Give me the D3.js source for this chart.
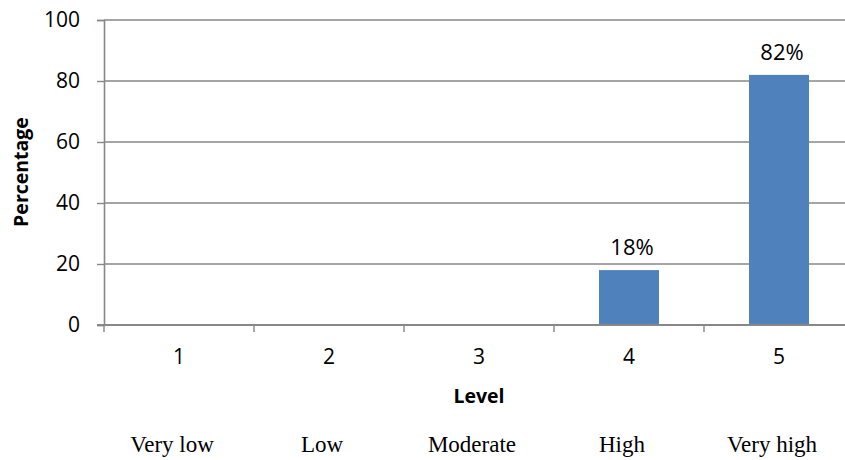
<!DOCTYPE html>
<html>
<head>
<meta charset="utf-8">
<script src="https://cdn.jsdelivr.net/npm/d3@7"></script>
<style>
  html, body { margin: 0; padding: 0; background: #fff; }
  svg { display: block; }
</style>
</head>
<body>
<svg id="chart" width="845" height="460"></svg>
<script>
// Level categories, their verbal descriptions and the share of respondents (%)
const levels = ["1", "2", "3", "4", "5"];
const levelNames = ["Very low", "Low", "Moderate", "High", "Very high"];
const percentages = [0, 0, 0, 18, 82];
const yTicks = [0, 20, 40, 60, 80, 100];

const svg = d3.select("#chart");
const W = 845, H = 460;
const m = { left: 104, top: 20, bottom: 135 };
const plotRight = 854;            // plot area runs a little past the canvas edge
const plotBottom = H - m.bottom;  // 325

const axisColor = "#878787";
const barColor = "#4F81BD";
const sansFont = "'Open Sans', 'Liberation Sans', sans-serif";

const x = d3.scaleBand().domain(levels).range([m.left, plotRight]).paddingInner(0).paddingOuter(0);
const y = d3.scaleLinear().domain([0, 100]).range([plotBottom, m.top]);
const barW = x.bandwidth() * 0.4;

// Horizontal gridlines
svg.append("g")
  .selectAll("line")
  .data(yTicks.filter(d => d > 0))
  .join("line")
  .attr("x1", m.left).attr("x2", W)
  .attr("y1", d => y(d)).attr("y2", d => y(d))
  .attr("stroke", axisColor).attr("stroke-width", 1.4);

// Y axis
const yAxis = svg.append("g")
  .attr("transform", `translate(${m.left},0)`)
  .call(d3.axisLeft(y).tickValues(yTicks).tickSize(7).tickPadding(17));
yAxis.select(".domain").attr("stroke", axisColor).attr("stroke-width", 1.6);
yAxis.selectAll(".tick line").attr("stroke", axisColor).attr("stroke-width", 1.4);
yAxis.selectAll(".tick text")
  .attr("fill", "#000").attr("font-family", sansFont).attr("font-size", 21);

// Bars
svg.append("g")
  .selectAll("rect")
  .data(levels.map((l, i) => ({ l, v: percentages[i] })).filter(d => d.v > 0))
  .join("rect")
  .attr("x", d => x(d.l) + (x.bandwidth() - barW) / 2)
  .attr("width", barW)
  .attr("y", d => y(d.v))
  .attr("height", d => y(0) - y(d.v))
  .attr("fill", barColor);

// Value labels above bars
svg.append("g")
  .selectAll("text")
  .data(levels.map((l, i) => ({ l, v: percentages[i] })).filter(d => d.v > 0))
  .join("text")
  .attr("x", d => x(d.l) + x.bandwidth() / 2 + 3)
  .attr("y", d => y(d.v) - 15)
  .attr("text-anchor", "middle")
  .attr("font-family", sansFont).attr("font-size", 22)
  .attr("fill", "#000")
  .text(d => d.v + "%");

// X axis
const xAxis = svg.append("g")
  .attr("transform", `translate(0,${plotBottom})`)
  .call(d3.axisBottom(x).tickSize(0).tickPadding(24));
xAxis.select(".domain").remove();
xAxis.append("line")
  .attr("x1", m.left - 7).attr("x2", W)
  .attr("stroke", axisColor).attr("stroke-width", 1.8);
xAxis.selectAll(".tick text")
  .attr("fill", "#000").attr("font-family", sansFont).attr("font-size", 21);
// tick marks sit on band boundaries
xAxis.append("g")
  .selectAll("line")
  .data(levels)
  .join("line")
  .attr("x1", d => x(d)).attr("x2", d => x(d))
  .attr("y1", 0).attr("y2", 7)
  .attr("stroke", axisColor).attr("stroke-width", 1.4);

// Axis titles
svg.append("text")
  .attr("x", (m.left + plotRight) / 2)
  .attr("y", 403)
  .attr("text-anchor", "middle")
  .attr("font-family", sansFont).attr("font-weight", "bold").attr("font-size", 19.5)
  .text("Level");

svg.append("text")
  .attr("transform", `translate(28,${172}) rotate(-90)`)
  .attr("text-anchor", "middle")
  .attr("font-family", sansFont).attr("font-weight", "bold").attr("font-size", 19.5)
  .text("Percentage");

// Descriptive names under the chart
svg.append("g")
  .selectAll("text")
  .data(levels.map((l, i) => ({ l, name: levelNames[i] })))
  .join("text")
  .attr("x", d => x(d.l) + x.bandwidth() / 2 - 7)
  .attr("y", 452)
  .attr("text-anchor", "middle")
  .attr("font-family", "'Liberation Serif', 'Times New Roman', serif")
  .attr("font-size", 23)
  .attr("fill", "#000")
  .text(d => d.name);
</script>
</body>
</html>
